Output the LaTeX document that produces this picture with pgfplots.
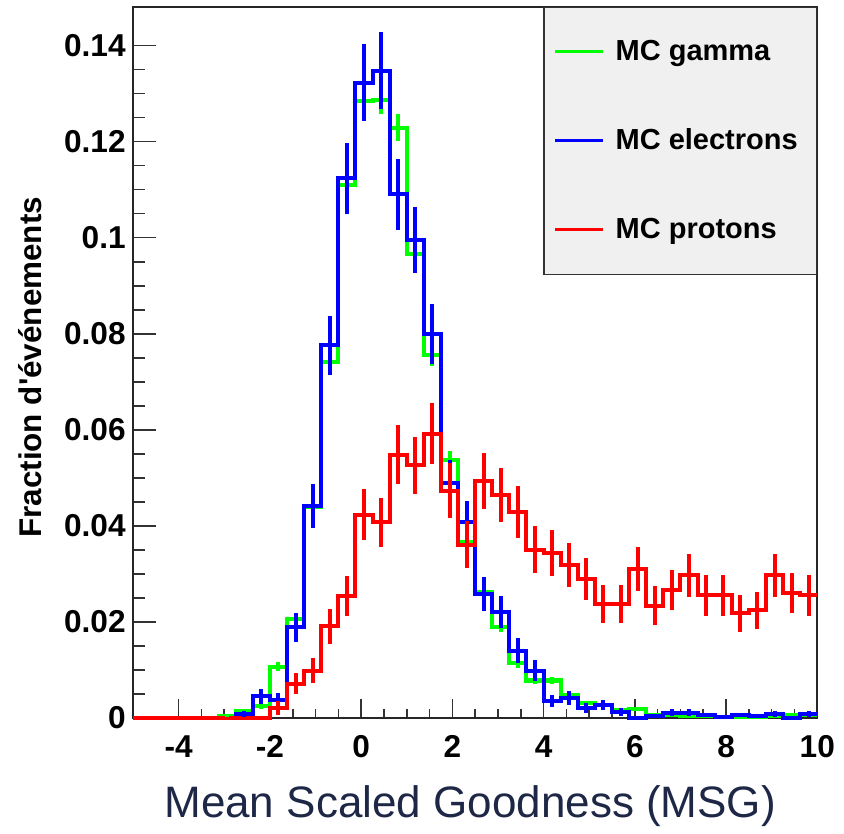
\documentclass[border=0pt]{standalone}
\usepackage{pgfplots}
\pgfplotsset{compat=1.18}
\usepackage{pgfplotstable}
\usepackage{fontspec}
\setmainfont{Liberation Sans}
\definecolor{rgreen}{RGB}{0,255,0}
\definecolor{rblue}{RGB}{0,0,255}
\definecolor{rred}{RGB}{255,0,0}
\definecolor{legendgray}{RGB}{240,240,240}
\definecolor{navy}{RGB}{30,40,70}

% columns: left bin edge, bin centre, fraction, error
\pgfplotstableread{
xl xc y e
-5 -4.8125 0 0
-4.625 -4.4375 0 0
-4.25 -4.0625 0 0
-3.875 -3.6875 0 0
-3.5 -3.3125 0 0
-3.125 -2.9375 0.0005 0.0003
-2.75 -2.5625 0.0014 0.0005
-2.375 -2.1875 0.0024 0.0006
-2 -1.8125 0.0107 0.0009
-1.625 -1.4375 0.0206 0.0012
-1.25 -1.0625 0.0440 0.0017
-0.875 -0.6875 0.0742 0.0022
-0.5 -0.3125 0.1110 0.0027
-0.125 0.0625 0.1285 0.0029
0.25 0.4375 0.1287 0.0029
0.625 0.8125 0.1229 0.0028
1 1.1875 0.0966 0.0025
1.375 1.5625 0.0755 0.0022
1.75 1.9375 0.0537 0.0019
2.125 2.3125 0.0366 0.0015
2.5 2.6875 0.0262 0.0013
2.875 3.0625 0.0190 0.0011
3.25 3.4375 0.0114 0.0009
3.625 3.8125 0.0078 0.0007
4 4.1875 0.0078 0.0007
4.375 4.5625 0.0047 0.0006
4.75 4.9375 0.0031 0.0005
5.125 5.3125 0.0026 0.0004
5.5 5.6875 0.0016 0.0003
5.875 6.0625 0.0019 0.0003
6.25 6.4375 0.0007 0.0002
6.625 6.8125 0.0007 0.0002
7 7.1875 0.0005 0.0002
7.375 7.5625 0.0004 0.0002
7.75 7.9375 0.0003 0.0001
8.125 8.3125 0.0003 0.0001
8.5 8.6875 0.0003 0.0001
8.875 9.0625 0.0005 0.0002
9.25 9.4375 0.0007 0.0002
9.625 9.8125 0.0007 0.0002
10 10.1875 0.0007 0
}\gammatab

\pgfplotstableread{
xl xc y e
-5 -4.8125 0 0
-4.625 -4.4375 0 0
-4.25 -4.0625 0 0
-3.875 -3.6875 0 0
-3.5 -3.3125 0 0
-3.125 -2.9375 0 0
-2.75 -2.5625 0.0008 0.0006
-2.375 -2.1875 0.0045 0.0015
-2 -1.8125 0.0038 0.0014
-1.625 -1.4375 0.0189 0.0030
-1.25 -1.0625 0.0441 0.0046
-0.875 -0.6875 0.0776 0.0061
-0.5 -0.3125 0.1124 0.0074
-0.125 0.0625 0.1323 0.0080
0.25 0.4375 0.1348 0.0081
0.625 0.8125 0.1090 0.0073
1 1.1875 0.0995 0.0069
1.375 1.5625 0.0800 0.0062
1.75 1.9375 0.0489 0.0049
2.125 2.3125 0.0408 0.0044
2.5 2.6875 0.0258 0.0035
2.875 3.0625 0.0220 0.0033
3.25 3.4375 0.0140 0.0026
3.625 3.8125 0.0098 0.0022
4 4.1875 0.0035 0.0013
4.375 4.5625 0.0042 0.0014
4.75 4.9375 0.0021 0.0010
5.125 5.3125 0.0027 0.0011
5.5 5.6875 0.0013 0.0008
5.875 6.0625 0 0
6.25 6.4375 0.0004 0.0004
6.625 6.8125 0.0011 0.0007
7 7.1875 0.0011 0.0007
7.375 7.5625 0.0006 0.0005
7.75 7.9375 0.0003 0.0004
8.125 8.3125 0.0006 0.0005
8.5 8.6875 0.0004 0.0004
8.875 9.0625 0.0008 0.0006
9.25 9.4375 0 0
9.625 9.8125 0.0008 0.0006
10 10.1875 0.0008 0
}\electab

\pgfplotstableread{
xl xc y e
-5 -4.8125 0 0
-4.625 -4.4375 0 0
-4.25 -4.0625 0 0
-3.875 -3.6875 0 0
-3.5 -3.3125 0 0
-3.125 -2.9375 0 0
-2.75 -2.5625 0 0
-2.375 -2.1875 0 0
-2 -1.8125 0.0021 0.0014
-1.625 -1.4375 0.0071 0.0022
-1.25 -1.0625 0.0098 0.0026
-0.875 -0.6875 0.0191 0.0036
-0.5 -0.3125 0.0254 0.0041
-0.125 0.0625 0.0423 0.0053
0.25 0.4375 0.0407 0.0052
0.625 0.8125 0.0548 0.0061
1 1.1875 0.0526 0.0060
1.375 1.5625 0.0592 0.0063
1.75 1.9375 0.0473 0.0057
2.125 2.3125 0.0361 0.0049
2.5 2.6875 0.0493 0.0058
2.875 3.0625 0.0465 0.0056
3.25 3.4375 0.0429 0.0054
3.625 3.8125 0.0350 0.0049
4 4.1875 0.0344 0.0048
4.375 4.5625 0.0318 0.0046
4.75 4.9375 0.0289 0.0044
5.125 5.3125 0.0237 0.0040
5.5 5.6875 0.0237 0.0040
5.875 6.0625 0.0310 0.0046
6.25 6.4375 0.0234 0.0040
6.625 6.8125 0.0267 0.0042
7 7.1875 0.0297 0.0045
7.375 7.5625 0.0255 0.0042
7.75 7.9375 0.0255 0.0042
8.125 8.3125 0.0218 0.0038
8.5 8.6875 0.0224 0.0039
8.875 9.0625 0.0297 0.0045
9.25 9.4375 0.0260 0.0042
9.625 9.8125 0.0255 0.0042
10 10.1875 0.0255 0
}\protab

\begin{document}
\begin{tikzpicture}
\begin{axis}[
  scale only axis,
  width=342pt, height=355.5pt,
  xmin=-5, xmax=10, ymin=0, ymax=0.1481,
  clip=false,
  xtick={-4,-2,0,2,4,6,8,10},
  ytick={0,0.02,0.04,0.06,0.08,0.1,0.12,0.14},
  minor x tick num=3, minor y tick num=3,
  tick align=inside,
  xtick pos=bottom, ytick pos=left,
  major tick length=11.3pt, minor tick length=5.8pt,
  major x tick style={/pgfplots/major tick length=9.5pt},
  minor x tick style={/pgfplots/minor tick length=4.5pt},
  tick style={black!80, line width=0.8pt},
  axis line style={black!85, line width=1pt},
  scaled y ticks=false,
  /pgf/number format/assume math mode=true,
  yticklabel style={/pgf/number format/fixed, /pgf/number format/precision=2, inner xsep=0pt, xshift=-3.5pt},
  xticklabel style={inner ysep=0pt, yshift=-8.5pt},
  ticklabel style={font=\bfseries\fontsize{15.8}{15.8}\selectfont},
  xlabel={Mean Scaled Goodness (MSG)},
  ylabel={Fraction d\textquotesingle événements},
  every axis x label/.style={at={(axis description cs:0.5,0)}, anchor=base, yshift=-50pt, xshift=-2.5pt, font=\fontsize{22}{22}\selectfont, text=navy},
  every axis y label/.style={at={(axis description cs:0,0.5)}, anchor=center, xshift=-51.5pt, yshift=-2.5pt, rotate=90, font=\bfseries\fontsize{15.7}{15.7}\selectfont},
  legend cell align=left,
  legend style={at={(1,1)}, anchor=north east, fill=legendgray, draw=black!80, line width=0.6pt,
    font=\bfseries\fontsize{14.5}{14.5}\selectfont,
    inner xsep=5pt, inner ysep=0pt, row sep=0pt, column sep=5.5pt,
    nodes={minimum height=44.5pt, inner sep=0pt}},
  legend image code/.code={\draw[#1, line width=1.5pt] (0pt,0pt) -- (23.85pt,0pt);},
]
\addplot[const plot mark left, rgreen, line width=2pt, no markers] table[x=xl, y=y] {\gammatab};
\addlegendentry{\makebox[95.5pt][l]{MC gamma}}
\addplot[const plot mark left, rblue, line width=2pt, no markers] table[x=xl, y=y] {\electab};
\addlegendentry{\makebox[95.5pt][l]{MC electrons}}
\addplot[const plot mark left, rred, line width=2pt, no markers] table[x=xl, y=y] {\protab};
\addlegendentry{\makebox[95.5pt][l]{MC protons}}

\addplot[forget plot, draw=none, no markers, skip coords between index={40}{41},
  error bars/.cd, y dir=both, y explicit, error mark=none,
  error bar style={draw=rgreen, line width=2pt}]
  table[x=xc, y=y, y error=e] {\gammatab};
\addplot[forget plot, draw=none, no markers, skip coords between index={40}{41},
  error bars/.cd, y dir=both, y explicit, error mark=none,
  error bar style={draw=rblue, line width=2pt}]
  table[x=xc, y=y, y error=e] {\electab};
\addplot[forget plot, draw=none, no markers, skip coords between index={40}{41},
  error bars/.cd, y dir=both, y explicit, error mark=none,
  error bar style={draw=rred, line width=2pt}]
  table[x=xc, y=y, y error=e] {\protab};
\end{axis}
\path ([xshift=-66.5pt,yshift=-53.15pt]current axis.south west) rectangle ([xshift=13.35pt,yshift=3.35pt]current axis.north east);
\end{tikzpicture}
\end{document}
